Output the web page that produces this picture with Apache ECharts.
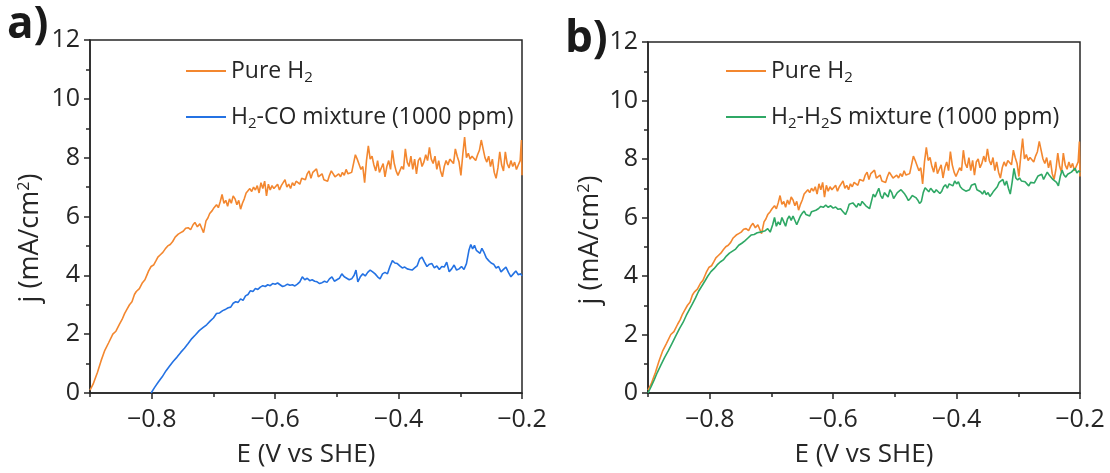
<!DOCTYPE html>
<html>
<head>
<meta charset="utf-8">
<script src="https://cdn.jsdelivr.net/npm/echarts@6/dist/echarts.min.js"></script>
<style>
  html, body { margin: 0; padding: 0; background: #fff; }
  #chart { width: 1110px; height: 473px; }
</style>
</head>
<body>
<div id="chart"></div>
<script>
// E (V vs SHE), j (mA/cm2)
const pureH2 = [
  [-0.900,0.10],[-0.895,0.30],[-0.888,0.70],[-0.882,1.10],[-0.876,1.45],[-0.870,1.70],[-0.863,2.00],[-0.858,2.10],
  [-0.852,2.35],[-0.848,2.50],[-0.844,2.70],[-0.840,2.85],[-0.836,3.00],[-0.832,3.10],[-0.828,3.35],[-0.825,3.45],
  [-0.820,3.55],[-0.815,3.75],[-0.811,3.85],[-0.808,4.00],[-0.805,4.15],[-0.801,4.30],[-0.797,4.35],[-0.793,4.50],
  [-0.790,4.62],[-0.786,4.70],[-0.782,4.78],[-0.778,4.90],[-0.774,5.00],[-0.770,5.05],[-0.766,5.15],[-0.762,5.30],
  [-0.757,5.40],[-0.753,5.45],[-0.749,5.50],[-0.745,5.60],[-0.741,5.62],[-0.737,5.55],[-0.733,5.72],[-0.730,5.80],
  [-0.726,5.65],[-0.722,5.75],[-0.719,5.60],[-0.716,5.45],[-0.712,5.85],[-0.709,5.95],[-0.706,6.10],[-0.702,6.20],
  [-0.699,6.30],[-0.695,6.40],[-0.692,6.30],[-0.689,6.50],[-0.686,6.75],[-0.683,6.45],[-0.680,6.55],[-0.677,6.35],
  [-0.674,6.60],[-0.671,6.45],[-0.668,6.70],[-0.665,6.60],[-0.662,6.40],[-0.659,6.55],[-0.656,6.25],[-0.653,6.45],
  [-0.650,6.60],[-0.647,6.80],[-0.644,6.75],[-0.641,6.95],[-0.638,6.85],[-0.635,7.00],[-0.632,6.90],[-0.629,7.05],
  [-0.626,6.80],[-0.623,7.15],[-0.620,6.95],[-0.617,7.20],[-0.614,6.70],[-0.611,7.10],[-0.608,6.90],[-0.605,7.05],
  [-0.602,6.95],[-0.599,7.00],[-0.596,7.10],[-0.593,6.90],[-0.590,7.05],[-0.587,7.15],[-0.584,7.25],[-0.581,7.00],
  [-0.578,7.10],[-0.575,6.95],[-0.572,7.15],[-0.569,7.05],[-0.566,7.20],[-0.563,7.25],[-0.560,7.10],[-0.557,7.30],
  [-0.554,7.35],[-0.551,7.25],[-0.548,7.45],[-0.545,7.55],[-0.542,7.30],[-0.539,7.50],[-0.536,7.55],[-0.533,7.62],
  [-0.530,7.35],[-0.527,7.30],[-0.524,7.45],[-0.521,7.25],[-0.518,7.30],[-0.515,7.20],[-0.512,7.40],[-0.509,7.55],
  [-0.506,7.60],[-0.503,7.35],[-0.500,7.30],[-0.497,7.45],[-0.494,7.35],[-0.491,7.50],[-0.488,7.40],[-0.485,7.60],
  [-0.482,7.45],[-0.479,7.40],[-0.476,7.50],[-0.473,7.55],[-0.470,8.10],[-0.467,7.95],[-0.464,8.00],[-0.461,7.60],
  [-0.458,7.70],[-0.455,7.15],[-0.452,7.90],[-0.449,8.40],[-0.446,7.95],[-0.443,8.05],[-0.440,7.75],[-0.437,7.55],
  [-0.434,7.90],[-0.431,7.50],[-0.428,7.65],[-0.425,7.80],[-0.422,7.35],[-0.419,7.70],[-0.416,7.90],[-0.413,7.60],
  [-0.410,8.25],[-0.407,7.80],[-0.404,7.55],[-0.401,7.40],[-0.398,7.35],[-0.395,7.70],[-0.392,7.60],[-0.389,8.30],
  [-0.386,7.85],[-0.383,7.70],[-0.380,8.05],[-0.377,7.60],[-0.374,7.95],[-0.371,7.45],[-0.368,7.90],[-0.365,8.00],
  [-0.362,7.70],[-0.359,7.85],[-0.356,8.10],[-0.353,7.90],[-0.350,8.35],[-0.347,7.95],[-0.344,7.80],[-0.341,8.05],
  [-0.338,7.60],[-0.335,7.90],[-0.332,7.55],[-0.329,7.35],[-0.326,7.70],[-0.323,7.90],[-0.320,7.75],[-0.317,7.95],
  [-0.314,8.00],[-0.311,7.80],[-0.308,8.30],[-0.305,8.05],[-0.302,7.85],[-0.299,7.40],[-0.296,8.10],[-0.293,8.70],
  [-0.290,8.00],[-0.287,8.15],[-0.284,7.95],[-0.281,8.05],[-0.278,8.00],[-0.275,7.90],[-0.272,8.10],[-0.269,8.25],
  [-0.266,8.60],[-0.263,8.30],[-0.260,8.00],[-0.257,7.85],[-0.254,8.05],[-0.251,7.70],[-0.248,7.95],[-0.245,7.50],
  [-0.242,7.30],[-0.239,7.65],[-0.236,8.20],[-0.233,7.75],[-0.230,7.55],[-0.227,8.20],[-0.224,7.80],[-0.221,7.65],
  [-0.218,7.90],[-0.215,7.70],[-0.212,7.85],[-0.209,7.60],[-0.206,7.75],[-0.203,7.90],[-0.201,8.60],[-0.200,7.40]
];

const h2CO = [
  [-0.801,0.00],[-0.795,0.20],[-0.789,0.38],[-0.783,0.55],[-0.777,0.75],[-0.771,0.92],[-0.765,1.08],[-0.759,1.22],
  [-0.753,1.38],[-0.747,1.52],[-0.741,1.68],[-0.735,1.85],[-0.729,1.98],[-0.723,2.12],[-0.717,2.22],[-0.711,2.32],
  [-0.705,2.45],[-0.700,2.55],[-0.695,2.70],[-0.690,2.72],[-0.685,2.80],[-0.680,2.85],[-0.676,2.90],[-0.672,2.92],
  [-0.668,3.05],[-0.664,3.10],[-0.660,3.08],[-0.656,3.20],[-0.652,3.15],[-0.648,3.30],[-0.644,3.35],[-0.640,3.48],
  [-0.636,3.45],[-0.632,3.55],[-0.628,3.52],[-0.624,3.60],[-0.620,3.65],[-0.616,3.62],[-0.612,3.68],[-0.608,3.65],
  [-0.604,3.72],[-0.600,3.70],[-0.596,3.74],[-0.592,3.68],[-0.588,3.62],[-0.584,3.65],[-0.580,3.70],[-0.576,3.66],
  [-0.572,3.68],[-0.568,3.64],[-0.564,3.70],[-0.560,3.78],[-0.556,3.95],[-0.552,3.85],[-0.548,3.90],[-0.544,3.82],
  [-0.540,3.85],[-0.536,3.80],[-0.532,3.78],[-0.528,3.72],[-0.524,3.75],[-0.520,3.80],[-0.516,3.76],[-0.512,3.88],
  [-0.508,3.95],[-0.504,3.80],[-0.500,3.85],[-0.496,3.90],[-0.492,4.05],[-0.488,3.95],[-0.484,3.90],[-0.480,3.85],
  [-0.476,3.88],[-0.472,4.00],[-0.469,4.18],[-0.466,3.78],[-0.462,3.95],[-0.458,4.05],[-0.454,3.98],[-0.450,4.10],
  [-0.446,4.18],[-0.442,4.12],[-0.438,4.05],[-0.434,3.95],[-0.430,3.88],[-0.426,4.05],[-0.422,4.10],[-0.418,4.05],
  [-0.414,4.30],[-0.410,4.50],[-0.406,4.42],[-0.402,4.40],[-0.398,4.32],[-0.394,4.25],[-0.390,4.28],[-0.386,4.22],
  [-0.382,4.20],[-0.378,4.18],[-0.374,4.25],[-0.370,4.32],[-0.366,4.55],[-0.362,4.62],[-0.358,4.45],[-0.354,4.30],
  [-0.350,4.38],[-0.346,4.40],[-0.342,4.25],[-0.338,4.32],[-0.334,4.20],[-0.330,4.30],[-0.326,4.28],[-0.322,4.45],
  [-0.318,4.12],[-0.314,4.22],[-0.310,4.35],[-0.306,4.18],[-0.302,4.22],[-0.298,4.30],[-0.294,4.20],[-0.290,4.40],
  [-0.286,4.85],[-0.283,5.05],[-0.280,4.90],[-0.277,5.02],[-0.274,4.85],[-0.271,4.80],[-0.268,4.75],[-0.265,4.92],
  [-0.262,4.80],[-0.258,4.60],[-0.254,4.50],[-0.250,4.42],[-0.246,4.38],[-0.242,4.25],[-0.238,4.30],[-0.234,4.12],
  [-0.230,4.20],[-0.226,4.28],[-0.222,4.10],[-0.218,3.95],[-0.214,4.05],[-0.210,4.15],[-0.206,4.02],[-0.202,4.05],
  [-0.200,3.98]
];

const h2H2S = [
  [-0.900,0.00],[-0.895,0.22],[-0.890,0.45],[-0.885,0.70],[-0.879,0.96],[-0.873,1.22],[-0.867,1.45],[-0.861,1.70],
  [-0.855,1.95],[-0.849,2.20],[-0.843,2.42],[-0.838,2.65],[-0.833,2.85],[-0.828,3.05],[-0.823,3.25],[-0.818,3.48],
  [-0.813,3.65],[-0.808,3.82],[-0.803,4.00],[-0.798,4.15],[-0.793,4.25],[-0.788,4.38],[-0.783,4.48],[-0.778,4.55],
  [-0.773,4.68],[-0.768,4.78],[-0.763,4.85],[-0.758,4.92],[-0.753,5.05],[-0.748,5.12],[-0.743,5.20],[-0.738,5.30],
  [-0.733,5.40],[-0.728,5.42],[-0.723,5.48],[-0.718,5.50],[-0.714,5.52],[-0.710,5.55],[-0.706,5.62],[-0.702,5.50],
  [-0.698,5.75],[-0.695,6.00],[-0.692,5.70],[-0.689,5.85],[-0.686,5.75],[-0.683,6.00],[-0.680,5.85],[-0.677,5.70],
  [-0.674,5.95],[-0.671,6.05],[-0.668,5.90],[-0.665,6.05],[-0.662,6.00],[-0.659,5.75],[-0.656,5.90],[-0.653,6.05],
  [-0.650,6.15],[-0.647,6.22],[-0.644,6.10],[-0.641,6.15],[-0.638,6.05],[-0.635,6.20],[-0.632,6.15],[-0.628,6.25],
  [-0.624,6.30],[-0.620,6.38],[-0.616,6.35],[-0.612,6.42],[-0.608,6.35],[-0.604,6.40],[-0.600,6.32],[-0.596,6.36],
  [-0.592,6.28],[-0.588,6.30],[-0.584,6.20],[-0.580,6.10],[-0.577,6.25],[-0.574,6.45],[-0.571,6.40],[-0.568,6.50],
  [-0.565,6.45],[-0.562,6.35],[-0.559,6.48],[-0.556,6.40],[-0.553,6.55],[-0.550,6.58],[-0.547,6.40],[-0.544,6.45],
  [-0.541,6.30],[-0.538,6.35],[-0.535,6.80],[-0.532,6.70],[-0.529,6.85],[-0.526,7.00],[-0.523,6.75],[-0.520,6.65],
  [-0.517,6.85],[-0.514,6.90],[-0.511,6.70],[-0.508,6.95],[-0.505,6.85],[-0.502,6.65],[-0.499,6.75],[-0.496,6.85],
  [-0.493,6.80],[-0.490,6.95],[-0.487,7.00],[-0.484,6.80],[-0.481,6.70],[-0.478,6.58],[-0.475,6.65],[-0.472,6.75],
  [-0.469,6.72],[-0.466,6.68],[-0.463,6.60],[-0.460,6.48],[-0.457,6.55],[-0.454,6.85],[-0.451,7.02],[-0.448,6.95],
  [-0.445,6.88],[-0.442,7.00],[-0.439,6.92],[-0.436,6.85],[-0.433,6.95],[-0.430,6.90],[-0.427,6.82],[-0.424,6.90],
  [-0.421,7.05],[-0.418,7.12],[-0.415,7.00],[-0.412,7.15],[-0.409,7.20],[-0.406,7.08],[-0.403,7.25],[-0.400,7.15],
  [-0.397,7.22],[-0.394,7.05],[-0.391,6.98],[-0.388,7.02],[-0.385,6.90],[-0.382,6.88],[-0.379,6.95],[-0.376,7.10],
  [-0.373,7.05],[-0.370,7.15],[-0.367,6.95],[-0.364,7.00],[-0.361,6.88],[-0.358,6.80],[-0.355,6.92],[-0.352,6.78],
  [-0.349,6.85],[-0.346,6.72],[-0.343,6.80],[-0.340,6.90],[-0.337,6.85],[-0.334,7.05],[-0.331,7.20],[-0.328,7.15],
  [-0.325,7.30],[-0.322,7.10],[-0.319,7.25],[-0.316,7.00],[-0.313,6.80],[-0.310,7.20],[-0.307,7.68],[-0.304,7.35],
  [-0.301,7.28],[-0.298,7.35],[-0.295,7.25],[-0.292,7.30],[-0.289,7.22],[-0.286,7.15],[-0.283,7.08],[-0.280,7.20],
  [-0.277,7.25],[-0.274,7.18],[-0.271,7.30],[-0.268,7.42],[-0.265,7.38],[-0.262,7.48],[-0.259,7.30],[-0.256,7.35],
  [-0.253,7.55],[-0.250,7.45],[-0.247,7.50],[-0.244,7.30],[-0.241,7.25],[-0.238,7.20],[-0.235,7.08],[-0.232,7.40],
  [-0.229,7.62],[-0.226,7.45],[-0.223,7.38],[-0.220,7.48],[-0.217,7.42],[-0.214,7.55],[-0.211,7.60],[-0.208,7.68],
  [-0.205,7.52],[-0.202,7.60],[-0.200,7.55]
];

const xMajor = [-0.8, -0.6, -0.4, -0.2];
const xMinor = [-0.9, -0.7, -0.5, -0.3];
const names = ['Pure H2', 'H2-CO mixture (1000 ppm)', 'H2-H2S mixture (1000 ppm)'];

const FONT = '"Open Sans", "Noto Sans", sans-serif';
const INK = '#262626';
const ORANGE = '#F3872F';
const BLUE = '#2472E3';
const GREEN = '#2FA865';

const chart = echarts.init(document.getElementById('chart'), null, { renderer: 'canvas' });

const grids = [
  { left: 90, top: 40, width: 432, height: 360 },
  { left: 648, top: 42, width: 432, height: 360 }
];

function minus(v) {
  return (v < 0 ? '\u2212' : '') + Math.abs(v).toFixed(1);
}

const xAxes = [];
const yAxes = [];
grids.forEach((g, i) => {
  xAxes.push({
    type: 'value', gridIndex: i, min: -0.9, max: -0.2, position: 'bottom',
    axisLine: { show: true, lineStyle: { color: INK, width: 1.5 } },
    axisTick: { show: true, inside: false, length: 6, customValues: xMajor, lineStyle: { color: INK, width: 1.5 } },
    axisLabel: { customValues: xMajor, formatter: minus, fontFamily: FONT, fontSize: 25, color: INK, margin: 14 },
    splitLine: { show: false },
    name: 'E (V vs SHE)', nameLocation: 'middle', nameGap: 49,
    nameTextStyle: { fontFamily: FONT, fontSize: 26, color: INK }
  });
  xAxes.push({
    type: 'value', gridIndex: i, min: -0.9, max: -0.2, position: 'bottom',
    axisLine: { show: false },
    axisTick: { show: true, inside: false, length: 4, customValues: xMinor, lineStyle: { color: INK, width: 1.5 } },
    axisLabel: { show: false },
    splitLine: { show: false }
  });
  yAxes.push({
    type: 'value', gridIndex: i, min: 0, max: 12, interval: 2,
    axisLine: { show: true, lineStyle: { color: INK, width: 1.5 } },
    axisTick: { show: true, inside: false, length: 6, lineStyle: { color: INK, width: 1.5 } },
    minorTick: { show: true, splitNumber: 2, length: 4, lineStyle: { color: INK, width: 1.5 } },
    axisLabel: { fontFamily: FONT, fontSize: 25, color: INK, margin: 10 },
    splitLine: { show: false },
    minorSplitLine: { show: false }
  });
});

function line(name, data, color, gi) {
  return {
    type: 'line', name: name, data: data,
    xAxisIndex: gi * 2, yAxisIndex: gi,
    showSymbol: false, symbol: 'none', smooth: false,
    lineStyle: { color: color, width: 1.6 },
    itemStyle: { color: color },
    emphasis: { disabled: true }
  };
}

const legendText = {
  fontFamily: FONT, fontSize: 23, color: INK, lineHeight: 28,
  rich: { sub: { fontFamily: FONT, fontSize: 15, color: INK, verticalAlign: 'bottom', lineHeight: 28, padding: [10, 0, 0, 0] } }
};
const legendFmt = n => n.replace(/H2/g, 'H{sub|2}');

function yTitle(x, y) {
  return {
    type: 'text', x: x, y: y, rotation: Math.PI / 2,
    style: {
      text: 'j (mA/cm{sup|2})', align: 'center', verticalAlign: 'middle',
      font: '27px ' + FONT, fill: INK,
      rich: { sup: { fontFamily: FONT, fontSize: 16, fill: INK, verticalAlign: 'top', padding: [0, 0, 10, 0] } }
    }
  };
}

const option = {
  animation: false,
  backgroundColor: '#fff',
  grid: grids.map(g => Object.assign({ show: true, borderColor: INK, borderWidth: 1.5, backgroundColor: 'transparent' }, g)),
  xAxis: xAxes,
  yAxis: yAxes,
  legend: [
    {
      data: [names[0], names[1]], orient: 'vertical', left: 186, top: 57, padding: 0,
      icon: 'rect', itemWidth: 40, itemHeight: 2, itemGap: 18, selectedMode: false,
      formatter: legendFmt, textStyle: legendText
    },
    {
      data: [names[0], names[2]], orient: 'vertical', left: 726, top: 57, padding: 0,
      icon: 'rect', itemWidth: 40, itemHeight: 2, itemGap: 18, selectedMode: false,
      formatter: legendFmt, textStyle: legendText
    }
  ],
  graphic: [
    { type: 'text', left: 7, top: 3, style: { text: 'a)', font: 'bold 44px ' + FONT, fill: '#1a1a1a' } },
    { type: 'text', left: 565, top: 17, style: { text: 'b)', font: 'bold 44px ' + FONT, fill: '#1a1a1a' } },
    yTitle(30, 238),
    yTitle(590, 240)
  ],
  series: [
    line(names[0], pureH2, ORANGE, 0),
    line(names[1], h2CO, BLUE, 0),
    line(names[0], pureH2, ORANGE, 1),
    line(names[2], h2H2S, GREEN, 1)
  ]
};

chart.setOption(option);
</script>
</body>
</html>
